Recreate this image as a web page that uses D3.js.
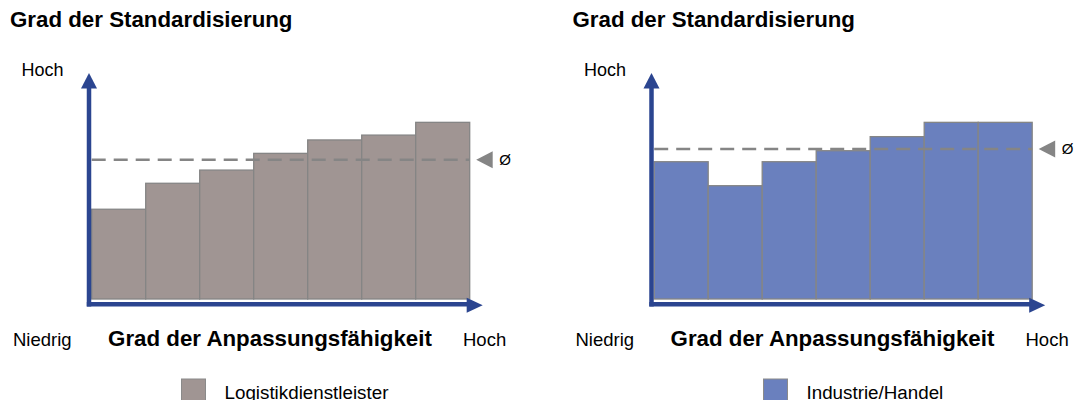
<!DOCTYPE html>
<html>
<head>
    <meta charset="utf-8">
    <script src="https://d3js.org/d3.v7.min.js"></script>
    <style>
        body { margin: 0; background: #fff; }
        text { font-family: "Liberation Sans", Arial, sans-serif; fill: #000; }
    </style>
</head>
<body>
    <svg id="chart"></svg>

    <script>
        // Data (0 = Niedrig, 10 = Hoch)
        const categories = ["1", "2", "3", "4", "5", "6", "7"];
        const logistikValues = [4.08, 5.26, 5.86, 6.62, 7.23, 7.45, 8.03];
        const logistikAvg = 6.33;
        const industrieValues = [6.24, 5.15, 6.24, 6.74, 7.38, 8.03, 8.03];
        const industrieAvg = 6.82;

        const yTitle = "Grad der Standardisierung";
        const xTitle = "Grad der Anpassungsfähigkeit";
        const lowLabel = "Niedrig";
        const highLabel = "Hoch";
        const avgLabel = "Ø";

        // SVG size
        const width = 1074;
        const height = 400;

        const svg = d3.select("#chart")
            .attr("width", width)
            .attr("height", height);

        const axisColor = "#2B4590";
        const lineGray = "#858585";

        // Scales shared by both panels (panels are shifted with a transform)
        const x = d3.scaleBand()
            .domain(categories)
            .range([91.7, 469.7])
            .padding(0);

        const y = d3.scaleLinear()
            .domain([0, 10])
            .range([299, 79]);

        // Draw one panel
        function drawPanel(dx, values, avg, fill, legendText, legendX) {
            const g = svg.append("g").attr("transform", `translate(${dx},0)`);

            // titles
            g.append("text")
                .attr("x", 10)
                .attr("y", 27)
                .style("font-size", "22.3px")
                .style("font-weight", "bold")
                .text(yTitle);

            g.append("text")
                .attr("x", 21.5)
                .attr("y", 75.5)
                .style("font-size", "18px")
                .text(highLabel);

            // bars
            g.selectAll("rect.bar")
                .data(values)
                .enter()
                .append("rect")
                .attr("class", "bar")
                .attr("x", (d, i) => x(categories[i]))
                .attr("y", d => y(d))
                .attr("width", x.bandwidth())
                .attr("height", d => y(0) - y(d))
                .style("fill", fill)
                .style("stroke", lineGray)
                .style("stroke-width", 1.3);

            // average line
            g.append("line")
                .attr("x1", x.range()[0])
                .attr("x2", x.range()[1])
                .attr("y1", y(avg))
                .attr("y2", y(avg))
                .style("stroke", lineGray)
                .style("stroke-width", 2.5)
                .style("stroke-dasharray", "14,8");

            // average marker
            const ay = y(avg);
            const ax = x.range()[1] + 6.5;
            g.append("path")
                .attr("d", `M${ax},${ay} L${ax + 16.5},${ay - 8.5} L${ax + 16.5},${ay + 8.5} Z`)
                .style("fill", lineGray);

            g.append("text")
                .attr("x", ax + 23)
                .attr("y", ay + 5.5)
                .style("font-size", "15px")
                .text(avgLabel);

            // axes with arrows
            const ox = 89, oy = 304.3;
            g.append("line")
                .attr("x1", ox).attr("y1", oy + 2.3)
                .attr("x2", ox).attr("y2", 86)
                .style("stroke", axisColor)
                .style("stroke-width", 4.5);
            g.append("path")
                .attr("d", `M${ox},73 L${ox + 8},88.5 L${ox - 8},88.5 Z`)
                .style("fill", axisColor);

            g.append("line")
                .attr("x1", ox - 2.2).attr("y1", oy)
                .attr("x2", 468).attr("y2", oy)
                .style("stroke", axisColor)
                .style("stroke-width", 4.5);
            g.append("path")
                .attr("d", `M482.7,${oy + 1} L466.7,${oy - 6.5} L466.7,${oy + 8.5} Z`)
                .style("fill", axisColor);

            // bottom labels
            g.append("text")
                .attr("x", 13)
                .attr("y", 346)
                .style("font-size", "18.5px")
                .text(lowLabel);

            g.append("text")
                .attr("x", 270)
                .attr("y", 346)
                .attr("text-anchor", "middle")
                .style("font-size", "22.3px")
                .style("font-weight", "bold")
                .text(xTitle);

            g.append("text")
                .attr("x", 463)
                .attr("y", 346)
                .style("font-size", "18.5px")
                .text(highLabel);

            // legend
            svg.append("rect")
                .attr("x", legendX)
                .attr("y", 379)
                .attr("width", 24)
                .attr("height", 24)
                .style("fill", fill)
                .style("stroke", "#8a8a8a")
                .style("stroke-width", 1);

            svg.append("text")
                .attr("x", legendX + 43)
                .attr("y", 398.5)
                .style("font-size", "18.8px")
                .text(legendText);
        }

        drawPanel(0, logistikValues, logistikAvg, "#A09593", "Logistikdienstleister", 181.5);
        drawPanel(562.5, industrieValues, industrieAvg, "#6A80BE", "Industrie/Handel", 763.5);
    </script>
</body>
</html>
